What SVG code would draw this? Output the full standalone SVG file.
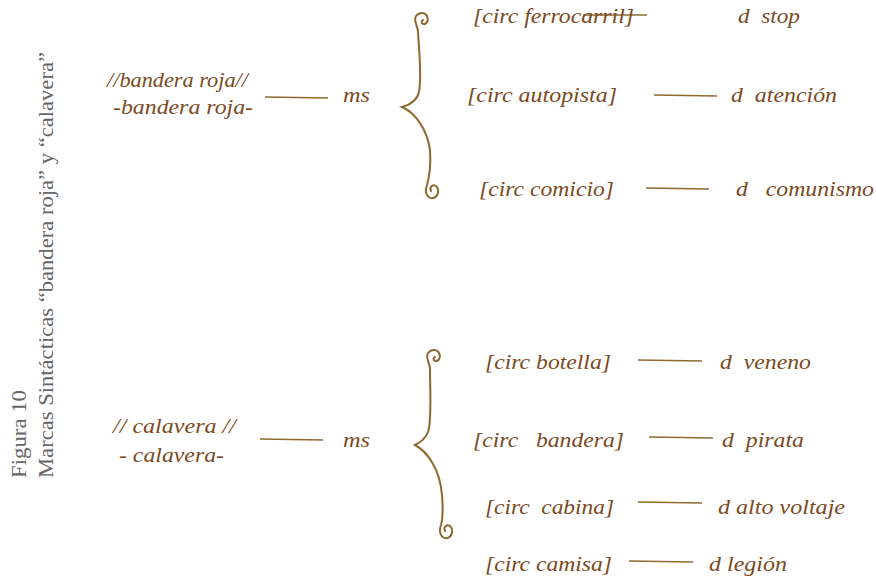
<svg xmlns="http://www.w3.org/2000/svg" width="876" height="577" viewBox="0 0 876 577">
<style>
.t{font-family:"Liberation Serif","DejaVu Serif",serif;font-style:italic;font-size:22px;fill:#7b4a22;white-space:pre}
.cap{font-family:"Liberation Serif","DejaVu Serif",serif;font-size:20px;fill:#666}
.ln{stroke:#8d6a30;stroke-width:1.6;fill:none}
.br{stroke:#8d6a30;stroke-width:2;fill:none;stroke-linecap:round}
</style>
<rect width="876" height="577" fill="#fff"/>
<g id="caption">
<text class="cap" transform="translate(26,478) rotate(-90)" textLength="88" lengthAdjust="spacingAndGlyphs">Figura 10</text>
<text class="cap" transform="translate(53,478) rotate(-90)" textLength="426" lengthAdjust="spacingAndGlyphs">Marcas Sintácticas “bandera roja” y “calavera”</text>
</g>
<g id="connectors">
<line class="ln" x1="265" y1="97" x2="328" y2="98"/>
<line class="ln" x1="583" y1="15" x2="647" y2="15"/>
<line class="ln" x1="654" y1="95" x2="717" y2="96"/>
<line class="ln" x1="646" y1="188" x2="709" y2="189"/>
<line class="ln" x1="260" y1="439" x2="323" y2="440"/>
<line class="ln" x1="638" y1="360" x2="702" y2="361"/>
<line class="ln" x1="649" y1="437" x2="713" y2="438"/>
<line class="ln" x1="638" y1="502" x2="702" y2="503"/>
<line class="ln" x1="629" y1="561" x2="693" y2="562"/>
<path class="br" d="M423,20 C421,21 421,24 424,24 C427,24 429,20 427,16 C425,12 419,12 416,16 C413,21 418,26 418,32 C419,50 422,75 419,92 C417,101 409,105 402,107 C414,112 427,128 430,150 C431,165 429,178 427,185 C424,193 428,199 433,198 C438,197 440,190 436,186 C433,184 429,187 431,191"/>
<path class="br" d="M435,357 C433,358 433,361 436,361 C439,361 441,357 439,353 C437,349 431,349 428,353 C425,358 430,363 430,369 C430,390 432,420 428,432 C425,440 419,443 415,445 C428,452 440,470 442,495 C443,508 443,518 441,525 C438,533 442,539 447,538 C452,537 454,530 450,526 C447,524 443,527 445,531"/>
</g>
<g id="n-bandera"><text class="t" x="107" y="87" textLength="141" lengthAdjust="spacingAndGlyphs">//bandera roja//</text><text class="t" x="113" y="114" textLength="140" lengthAdjust="spacingAndGlyphs">-bandera roja-</text></g>
<g id="n-ms1"><text class="t" x="343" y="102" textLength="27" lengthAdjust="spacingAndGlyphs">ms</text></g>
<g id="n-ferrocarril"><text class="t" x="473" y="23" textLength="161" lengthAdjust="spacingAndGlyphs">[circ ferrocarril]</text></g>
<g id="n-stop"><text class="t" x="738" y="23" textLength="62" lengthAdjust="spacingAndGlyphs">d  stop</text></g>
<g id="n-autopista"><text class="t" x="467" y="102" textLength="150" lengthAdjust="spacingAndGlyphs">[circ autopista]</text></g>
<g id="n-atencion"><text class="t" x="731" y="102" textLength="106" lengthAdjust="spacingAndGlyphs">d  atención</text></g>
<g id="n-comicio"><text class="t" x="479" y="196" textLength="135" lengthAdjust="spacingAndGlyphs">[circ comicio]</text></g>
<g id="n-comunismo"><text class="t" x="736" y="196" textLength="138" lengthAdjust="spacingAndGlyphs">d   comunismo</text></g>
<g id="n-calavera"><text class="t" x="113" y="433" textLength="123" lengthAdjust="spacingAndGlyphs">// calavera //</text><text class="t" x="119" y="462" textLength="105" lengthAdjust="spacingAndGlyphs">- calavera-</text></g>
<g id="n-ms2"><text class="t" x="343" y="447" textLength="27" lengthAdjust="spacingAndGlyphs">ms</text></g>
<g id="n-botella"><text class="t" x="485" y="369" textLength="126" lengthAdjust="spacingAndGlyphs">[circ botella]</text></g>
<g id="n-veneno"><text class="t" x="720" y="369" textLength="91" lengthAdjust="spacingAndGlyphs">d  veneno</text></g>
<g id="n-bandera2"><text class="t" x="473" y="447" textLength="151" lengthAdjust="spacingAndGlyphs">[circ   bandera]</text></g>
<g id="n-pirata"><text class="t" x="722" y="447" textLength="82" lengthAdjust="spacingAndGlyphs">d  pirata</text></g>
<g id="n-cabina"><text class="t" x="485" y="514" textLength="129" lengthAdjust="spacingAndGlyphs">[circ  cabina]</text></g>
<g id="n-voltaje"><text class="t" x="718" y="514" textLength="127" lengthAdjust="spacingAndGlyphs">d alto voltaje</text></g>
<g id="n-camisa"><text class="t" x="485" y="571" textLength="127" lengthAdjust="spacingAndGlyphs">[circ camisa]</text></g>
<g id="n-legion"><text class="t" x="709" y="571" textLength="78" lengthAdjust="spacingAndGlyphs">d legión</text></g>
</svg>
